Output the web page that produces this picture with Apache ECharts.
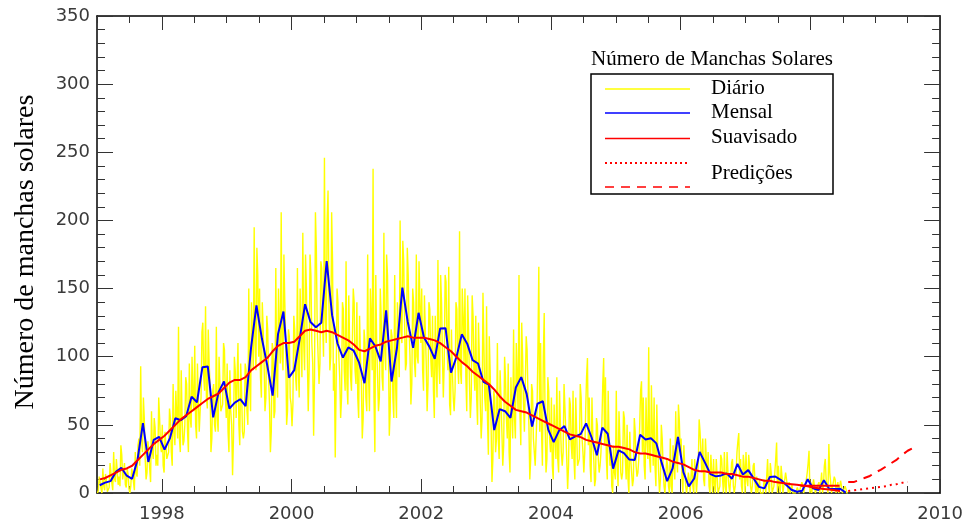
<!DOCTYPE html>
<html>
<head>
<meta charset="utf-8">
<script src="https://cdn.jsdelivr.net/npm/echarts@6/dist/echarts.min.js"></script>
<style>
  html, body { margin: 0; padding: 0; background: #fff; }
  #main { width: 966px; height: 523px; }
</style>
</head>
<body>
<div id="main"></div>
<script>
  // numero de manchas solares, media mensal (jan 1997 .. jul 2008)
  const mensal = [
    5.7, 7.6, 8.7, 15.5, 18.5, 12.7, 10.4, 24.4, 51.3, 22.8, 39.0, 41.2,
    31.9, 40.3, 54.8, 53.4, 56.3, 70.7, 66.6, 92.2, 92.9, 55.5, 74.0, 81.9,
    62.0, 66.3, 68.8, 63.7, 106.4, 137.7, 113.5, 93.7, 71.5, 116.7, 133.2, 84.6,
    90.1, 112.9, 138.5, 125.5, 121.6, 124.9, 170.1, 130.5, 109.7, 99.4, 106.8, 104.4,
    95.6, 80.6, 113.5, 107.7, 96.6, 134.0, 81.8, 106.4, 150.7, 125.5, 106.5, 132.2,
    114.1, 107.4, 98.4, 120.7, 120.8, 88.3, 99.6, 116.4, 109.6, 97.5, 95.0, 81.6,
    79.5, 46.2, 61.5, 60.0, 55.2, 77.4, 85.0, 72.7, 48.8, 65.5, 67.3, 46.5,
    37.3, 45.8, 49.1, 39.3, 41.5, 43.2, 51.1, 40.9, 27.7, 48.0, 43.5, 17.9,
    31.3, 29.2, 24.5, 24.2, 42.7, 39.3, 40.1, 36.4, 21.9, 8.7, 18.0, 41.1,
    15.3, 4.9, 10.6, 30.2, 22.3, 13.9, 12.2, 12.9, 14.4, 10.5, 21.4, 13.6,
    16.8, 10.7, 4.5, 3.4, 11.7, 12.1, 9.7, 6.0, 2.4, 0.9, 1.7, 10.1,
    3.4, 2.1, 9.3, 2.9, 2.9, 3.1, 0.5
  ];

  // suavisado (13 meses), jan 1997 .. jun 2008
  const suavisado = [
    10, 11, 13, 15, 17, 18, 20, 24, 28, 32, 36, 39,
    42, 46, 50, 54, 57, 60, 63, 66, 69, 71, 73, 77,
    81, 83, 83, 85, 90, 93, 96, 99, 104, 108, 110, 110,
    111, 115, 119, 120, 119, 118, 119, 118, 116, 114, 112, 109,
    105, 104, 106, 108, 109, 111, 112, 113, 114, 115, 114, 114,
    114, 113, 112, 110, 107, 104, 100, 96, 93, 89, 86, 83,
    80, 76, 71, 67, 64, 61, 60, 59, 57, 55, 53, 51,
    49, 47, 45, 43, 42, 41, 39, 38, 37, 36, 35, 34,
    34, 33, 32, 30, 29, 29, 28, 27, 26, 25, 23, 22,
    21, 19, 17, 16, 16, 15, 15, 15, 14, 14, 13, 12,
    12, 11, 10, 9, 9, 8, 7.5, 7, 6.5, 6, 5.5, 5,
    4, 3.5, 3, 2.5, 2, 1.5
  ];
  const suavisadoFimX = [2007.85, 2008.45];
  const suavisadoFimY = [5.4, 5.4];

  // diario, leituras A (dias ~3, 13, 23 de cada mes)
  const dA1997 = [0,12,3, 18,2,9, 0,22,7, 30,8,16, 12,35,10, 22,4,14, 0,18,8, 30,12,40, 93,30,55, 10,38,18, 60,25,48, 28,70,35];
  const dA1998 = [50,15,35, 25,62,30, 80,35,58, 122,30,55, 38,85,45, 95,48,72, 108,40,68, 60,118,85, 137,62,95, 30,75,50, 122,45,80, 60,110,70];
  const dA1999 = [95,30,60, 13,100,55, 110,35,75, 40,95,60, 150,60,115, 195,90,160, 150,70,120, 60,130,85, 30,110,55, 165,70,120, 206,90,140, 50,120,70];
  const dA2000 = [49,130,85, 165,70,120, 191,90,150, 60,175,110, 42,206,120, 80,170,125, 246,110,222, 90,206,75, 26,150,100, 55,140,90, 170,65,110, 75,150,90];
  const dA2001 = [140,55,100, 40,120,70, 175,60,130, 238,30,110, 60,150,85, 191,90,160, 42,120,70, 160,55,110, 200,110,170, 90,180,120, 65,150,95, 175,95,140];
  const dA2002 = [150,75,120, 60,140,100, 130,55,95, 171,80,140, 70,160,110, 166,57,90, 60,140,95, 192,80,130, 150,60,120, 55,145,90, 130,50,100, 40,147,70];
  const dA2003 = [137,28,90, 8,75,30, 110,25,70, 20,100,55, 95,15,60, 120,40,85, 160,35,100, 45,115,70, 10,80,40, 20,60,166, 110,20,132, 15,85,40];
  const dA2004 = [70,10,40, 85,15,50, 20,80,45, 3,70,35, 75,10,45, 20,80,40, 15,60,99, 70,8,40, 5,55,25, 20,50,99, 85,10,40, 35,0,15];
  const dA2005 = [75,5,40, 10,60,25, 50,0,25, 5,55,20, 15,50,82, 70,10,40, 107,15,45, 70,5,35, 0,50,20, 0,25,5, 40,0,20, 60,15,53];
  const dA2006 = [40,0,20, 0,15,0, 25,0,15, 10,54,30, 40,5,25, 30,0,15, 25,0,12, 0,28,10, 30,0,15, 0,22,5, 5,30,44, 25,0,20];
  const dA2007 = [30,5,20, 0,20,8, 12,0,0, 0,10,0, 25,0,15, 0,15,37, 20,0,12, 0,15,5, 8,0,0, 0,0,3, 0,8,0, 0,15,31];
  const dA2008 = [8,0,5, 0,6,0, 15,5,25, 10,36,8, 0,12,0, 8,0,5, 0,5,0];

  // diario, leituras B (dias ~8, 18, 28 de cada mes)
  const dB1997 = [2,8,0, 5,14,1, 4,15,2, 10,25,6, 5,28,15, 6,18,3, 5,15,2, 15,35,20, 40,70,25, 15,30,8, 30,55,20, 20,55,30];
  const dB1998 = [20,45,25, 30,55,20, 45,75,40, 40,90,35, 50,80,30, 55,100,60, 50,95,45, 70,125,75, 70,120,80, 40,80,45, 55,100,60, 65,105,55];
  const dB1999 = [45,90,50, 40,90,55, 50,95,45, 45,90,50, 80,140,90, 110,180,100, 85,140,95, 70,120,65, 45,105,60, 85,150,95, 100,175,110, 60,115,65];
  const dB2000 = [65,120,75, 90,150,85, 110,175,100, 90,160,95, 85,180,100, 95,165,100, 130,200,140, 100,170,95, 80,140,85, 70,135,75, 80,145,85, 75,140,80];
  const dB2001 = [70,130,80, 55,110,60, 85,150,90, 70,160,85, 70,130,75, 105,175,110, 60,115,55, 80,140,85, 120,185,125, 95,160,100, 80,140,85, 100,170,110];
  const dB2002 = [90,145,95, 80,135,85, 75,130,70, 95,160,100, 95,155,90, 65,120,70, 75,135,80, 90,150,95, 85,145,80, 70,130,75, 70,125,65, 55,110,60];
  const dB2003 = [55,115,50, 25,70,40, 40,90,45, 35,85,40, 30,85,40, 55,110,60, 60,125,65, 45,105,50, 25,75,30, 40,105,45, 45,100,50, 25,75,30];
  const dB2004 = [20,65,25, 25,75,30, 30,80,25, 20,65,25, 25,70,20, 25,70,30, 30,85,35, 20,70,25, 10,50,15, 30,80,35, 25,75,20, 5,35,10];
  const dB2005 = [20,60,15, 15,55,10, 10,45,15, 10,45,12, 25,75,30, 20,70,25, 25,79,20, 20,65,15, 10,40,5, 0,20,0, 5,35,10, 25,65,30];
  const dB2006 = [10,35,5, 5,10,0, 5,25,0, 20,45,15, 10,40,15, 5,28,0, 5,25,0, 5,25,0, 5,30,5, 0,25,0, 15,38,10, 5,28,0];
  const dB2007 = [10,28,5, 5,22,0, 0,10,0, 0,8,0, 5,22,0, 5,25,0, 5,20,0, 0,14,0, 0,6,0, 0,4,0, 0,6,0, 10,22,0];
  const dB2008 = [0,10,0, 0,8,0, 0,20,10, 0,15,0, 0,10,0, 0,9,0, 0,3,0];

  const diarioA = [].concat(dA1997, dA1998, dA1999, dA2000, dA2001, dA2002, dA2003, dA2004, dA2005, dA2006, dA2007, dA2008);
  const diarioB = [].concat(dB1997, dB1998, dB1999, dB2000, dB2001, dB2002, dB2003, dB2004, dB2005, dB2006, dB2007, dB2008);

  // predicoes, mensais a partir de ago 2008
  const predAlta = [8, 8, 9.5, 11, 12.5, 15, 17, 19.5, 22, 24.5, 28, 31, 33];
  const predBaixa = [1.5, 2, 2.5, 3, 3.5, 4, 4.5, 5, 6, 6.5, 7.5, 8];

  const anosRotulo = [1998, 2000, 2002, 2004, 2006, 2008, 2010];

  const ANO0 = 1997;
  const predInicio = 2008 + 7 / 12;

  // intercala as leituras A e B: seis por mes
  const diarioDados = [];
  diarioA.forEach(function (v, j) {
    diarioDados.push([ANO0 + (2 * j + 0.5) / 72, v]);
    diarioDados.push([ANO0 + (2 * j + 1.5) / 72, diarioB[j]]);
  });

  const corEixo = '#000';
  const corTick = '#333';
  const fonteTick = { fontFamily: 'DejaVu Sans', fontSize: 18, color: '#3a3a3a' };

  function eixo(extra) {
    return Object.assign({
      type: 'value',
      splitLine: { show: false },
      axisLine: { show: false, onZero: false },
      axisLabel: { show: false },
      axisTick: { show: false }
    }, extra);
  }

  let myChart = echarts.init(document.getElementById('main'));
  myChart.setOption({
    animation: false,
    grid: { left: 97, right: 25, top: 16, bottom: 29 },
    xAxis: [
      eixo({
        min: 1997, max: 2010, position: 'bottom',
        axisLine: { show: true, onZero: false, lineStyle: { color: corEixo, width: 1.5 } },
        axisTick: { show: true, inside: true, length: 14, customValues: anosRotulo, lineStyle: { color: corTick } },
        axisLabel: Object.assign({
          show: true, margin: 12, customValues: anosRotulo,
          formatter: function (v) { return String(v); }
        }, fonteTick)
      }),
      eixo({
        min: 1997, max: 2010, interval: 0.5, position: 'bottom',
        axisTick: { show: true, inside: true, length: 7, lineStyle: { color: corTick } }
      }),
      eixo({
        min: 1997, max: 2010, position: 'top',
        axisLine: { show: true, onZero: false, lineStyle: { color: corEixo, width: 1.5 } },
        axisTick: { show: true, inside: true, length: 14, customValues: anosRotulo, lineStyle: { color: corTick } }
      }),
      eixo({
        min: 1997, max: 2010, interval: 0.5, position: 'top',
        axisTick: { show: true, inside: true, length: 7, lineStyle: { color: corTick } }
      })
    ],
    yAxis: [
      eixo({
        min: 0, max: 350, interval: 50, position: 'left',
        axisLine: { show: true, onZero: false, lineStyle: { color: corEixo, width: 1.5 } },
        axisTick: { show: true, inside: true, length: 16, lineStyle: { color: corTick } },
        axisLabel: Object.assign({ show: true, margin: 7 }, fonteTick)
      }),
      eixo({
        min: 0, max: 350, interval: 10, position: 'left',
        axisTick: { show: true, inside: true, length: 8, lineStyle: { color: corTick } }
      }),
      eixo({
        min: 0, max: 350, interval: 50, position: 'right',
        axisLine: { show: true, onZero: false, lineStyle: { color: corEixo, width: 1.5 } },
        axisTick: { show: true, inside: true, length: 16, lineStyle: { color: corTick } }
      }),
      eixo({
        min: 0, max: 350, interval: 10, position: 'right',
        axisTick: { show: true, inside: true, length: 8, lineStyle: { color: corTick } }
      })
    ],
    series: [
      {
        name: 'Diário', type: 'line', showSymbol: false, silent: true, sampling: 'none',
        lineStyle: { color: '#ffff00', width: 1.4 },
        data: diarioDados
      },
      {
        name: 'Mensal', type: 'line', showSymbol: false, silent: true,
        lineStyle: { color: '#0000ff', width: 2 },
        data: mensal.map((v, i) => [ANO0 + (i + 0.5) / 12, v])
      },
      {
        name: 'Suavisado', type: 'line', showSymbol: false, silent: true,
        lineStyle: { color: '#ff0000', width: 2 },
        data: suavisado.map((v, i) => [ANO0 + (i + 0.5) / 12, v])
      },
      {
        name: 'Suavisado fim', type: 'line', showSymbol: false, silent: true,
        lineStyle: { color: '#ff0000', width: 2 },
        data: suavisadoFimX.map((x, i) => [x, suavisadoFimY[i]])
      },
      {
        name: 'Predições alta', type: 'line', showSymbol: false, silent: true,
        lineStyle: { color: '#ff0000', width: 2, type: [9, 7] },
        data: predAlta.map((v, k) => [predInicio + k / 12, v])
      },
      {
        name: 'Predições baixa', type: 'line', showSymbol: false, silent: true,
        lineStyle: { color: '#ff0000', width: 2, type: [2, 4] },
        data: predBaixa.map((v, k) => [predInicio + k / 12, v])
      }
    ],
    graphic: [
      // titulo do eixo y
      { type: 'text', x: 26, y: 252, rotation: Math.PI / 2, silent: true,
        style: { text: 'Número de manchas solares', font: '28px "Liberation Serif"', fill: '#000',
                 align: 'center', verticalAlign: 'middle', textAlign: 'center', textVerticalAlign: 'middle' } },
      // legenda
      { type: 'text', x: 712, y: 59, silent: true,
        style: { text: 'Número de Manchas Solares', font: '21px "Liberation Serif"', fill: '#000',
                 align: 'center', verticalAlign: 'middle', textAlign: 'center', textVerticalAlign: 'middle' } },
      { type: 'rect', silent: true, shape: { x: 591, y: 74, width: 242, height: 120 },
        style: { fill: 'none', stroke: '#000', lineWidth: 1.5 } },
      { type: 'line', silent: true, shape: { x1: 605, y1: 89, x2: 690, y2: 89 }, style: { stroke: '#ffff00', lineWidth: 1.5 } },
      { type: 'line', silent: true, shape: { x1: 605, y1: 113, x2: 690, y2: 113 }, style: { stroke: '#0000ff', lineWidth: 1.5 } },
      { type: 'line', silent: true, shape: { x1: 605, y1: 138.5, x2: 690, y2: 138.5 }, style: { stroke: '#ff0000', lineWidth: 1.5 } },
      { type: 'line', silent: true, shape: { x1: 605, y1: 163, x2: 690, y2: 163 }, style: { stroke: '#ff0000', lineWidth: 2, lineDash: [2, 3] } },
      { type: 'line', silent: true, shape: { x1: 605, y1: 187, x2: 690, y2: 187 }, style: { stroke: '#ff0000', lineWidth: 1.5, lineDash: [9, 7] } },
      { type: 'text', x: 711, y: 88, silent: true,
        style: { text: 'Diário', font: '21px "Liberation Serif"', fill: '#000', verticalAlign: 'middle', textVerticalAlign: 'middle' } },
      { type: 'text', x: 711, y: 112, silent: true,
        style: { text: 'Mensal', font: '21px "Liberation Serif"', fill: '#000', verticalAlign: 'middle', textVerticalAlign: 'middle' } },
      { type: 'text', x: 711, y: 137, silent: true,
        style: { text: 'Suavisado', font: '21px "Liberation Serif"', fill: '#000', verticalAlign: 'middle', textVerticalAlign: 'middle' } },
      { type: 'text', x: 711, y: 173, silent: true,
        style: { text: 'Predições', font: '21px "Liberation Serif"', fill: '#000', verticalAlign: 'middle', textVerticalAlign: 'middle' } }
    ]
  });
</script>
</body>
</html>
